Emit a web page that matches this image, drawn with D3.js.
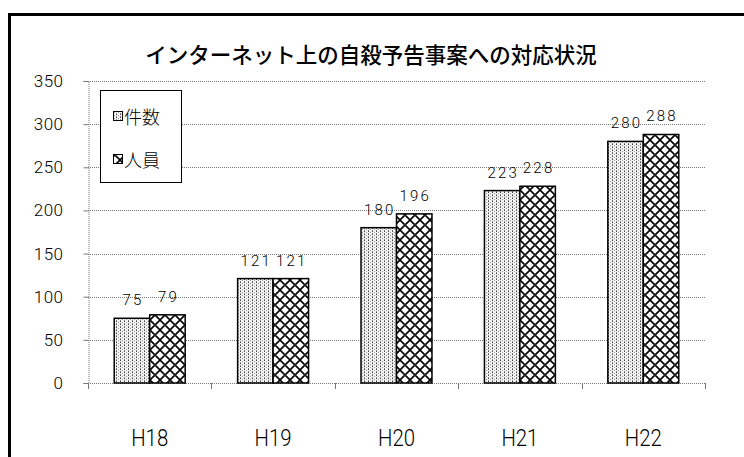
<!DOCTYPE html>
<html>
<head>
<meta charset="utf-8">
<script src="https://cdn.jsdelivr.net/npm/d3@7"></script>
<style>
  html, body { margin: 0; padding: 0; background: #fff; }
  svg { display: block; }
</style>
</head>
<body>
<svg id="chart" width="744" height="457"></svg>
<script>
// Online suicide-announcement cases handled, by fiscal year
const categories = ["H18", "H19", "H20", "H21", "H22"];
const seriesNames = ["件数", "人員"];
const cases = [75, 121, 180, 223, 280];
const persons = [79, 121, 196, 228, 288];
const yTicks = [0, 50, 100, 150, 200, 250, 300, 350];
const title = "インターネット上の自殺予告事案への対応状況";

const series = [cases, persons];
const svg = d3.select("#chart");
const latin = "Roboto, 'Liberation Sans', sans-serif";
const jp = "'Noto Sans CJK JP', sans-serif";

// fill patterns
const defs = svg.append("defs");
const p1 = defs.append("pattern").attr("id", "pat0")
  .attr("patternUnits", "userSpaceOnUse").attr("width", 4).attr("height", 3);
p1.append("rect").attr("width", 4).attr("height", 3).attr("fill", "#f2f2f2");
p1.append("rect").attr("x", 0).attr("y", 0).attr("width", 1).attr("height", 1).attr("fill", "#444");
p1.append("rect").attr("x", 2).attr("y", 1).attr("width", 1).attr("height", 1).attr("fill", "#999");
p1.append("rect").attr("x", 0).attr("y", 2).attr("width", 1).attr("height", 1).attr("fill", "#888");

const p2 = defs.append("pattern").attr("id", "pat1")
  .attr("patternUnits", "userSpaceOnUse").attr("width", 10).attr("height", 10);
p2.append("rect").attr("width", 10).attr("height", 10).attr("fill", "#fff");
p2.append("path").attr("d", "M0,0L10,10M10,0L0,10M-1,9L1,11M9,-1L11,1")
  .attr("stroke", "#000").attr("stroke-width", 1.6).attr("fill", "none");
p2.append("rect").attr("x", 4).attr("y", 4).attr("width", 2).attr("height", 2).attr("fill", "#222");

// outer frame (top and left edges)
svg.append("path").attr("d", "M9.5,457V14.5H744")
  .attr("stroke", "#000").attr("stroke-width", 3).attr("fill", "none");

// title
svg.append("text").attr("x", 371).attr("y", 63).attr("text-anchor", "middle")
  .attr("font-family", jp).attr("font-size", 21.5).attr("font-weight", 500)
  .attr("fill", "#000").text(title);

const x = d3.scaleBand().domain(categories).range([88, 705])
  .paddingInner(0.425).paddingOuter(0.2125);
const xs = d3.scaleBand().domain([0, 1]).range([0, x.bandwidth()]);
const y = d3.scaleLinear().domain([0, 350]).range([383, 81]);

// gridlines
svg.append("g").selectAll("line").data(yTicks.filter(d => d > 0)).join("line")
  .attr("x1", 88).attr("x2", 705)
  .attr("y1", d => Math.round(y(d)) + 0.5).attr("y2", d => Math.round(y(d)) + 0.5)
  .attr("stroke", "#777").attr("stroke-width", 1).attr("stroke-dasharray", "1,1");

// y axis
const yAxis = svg.append("g").attr("transform", "translate(88.5,0)")
  .call(d3.axisLeft(y).tickValues(yTicks).tickSize(5).tickPadding(20));
yAxis.select(".domain").attr("stroke", "#777").attr("stroke-dasharray", "1,1");
yAxis.selectAll(".tick line").attr("stroke", "#777");
yAxis.selectAll("text").attr("font-family", latin).attr("font-size", 17)
  .attr("font-weight", 300).attr("letter-spacing", 0.5).attr("fill", "#000");

// x axis
const boundaries = categories.map(c => x(c) - x.step() * x.paddingInner() / 2).concat([705]);
svg.append("line").attr("x1", 88).attr("x2", 705).attr("y1", 383.5).attr("y2", 383.5)
  .attr("stroke", "#777").attr("stroke-dasharray", "1,1");
svg.append("g").selectAll("line").data(boundaries).join("line")
  .attr("x1", d => Math.round(d) + 0.5).attr("x2", d => Math.round(d) + 0.5)
  .attr("y1", 383).attr("y2", 389).attr("stroke", "#777");
svg.append("g").selectAll("text").data(categories).join("text")
  .attr("x", d => x(d) + x.bandwidth() / 2).attr("y", 446)
  .attr("text-anchor", "middle").attr("font-family", latin).attr("font-size", 24)
  .attr("font-weight", 300)
  .attr("textLength", 37).attr("lengthAdjust", "spacingAndGlyphs")
  .attr("fill", "#000").text(d => d);

// bars and value labels
series.forEach((vals, si) => {
  svg.append("g").selectAll("rect").data(vals).join("rect")
    .attr("x", (d, i) => x(categories[i]) + xs(si))
    .attr("y", d => y(d))
    .attr("width", xs.bandwidth())
    .attr("height", d => y(0) - y(d))
    .attr("fill", `url(#pat${si})`)
    .attr("stroke", "#000").attr("stroke-width", 1.5);
  svg.append("g").selectAll("text").data(vals).join("text")
    .attr("x", (d, i) => x(categories[i]) + xs(si) + xs.bandwidth() / 2 + 1)
    .attr("y", d => y(d) - 13)
    .attr("text-anchor", "middle").attr("font-family", latin).attr("font-weight", 300)
    .attr("font-size", 15).attr("letter-spacing", 2.2).attr("fill", "#000")
    .text(d => d);
});

// legend
const lg = svg.append("g");
lg.append("rect").attr("x", 100.5).attr("y", 90.5).attr("width", 81).attr("height", 92)
  .attr("fill", "#fff").attr("stroke", "#000").attr("stroke-width", 1);
seriesNames.forEach((name, i) => {
  const cy = 117 + i * 43;
  lg.append("rect").attr("x", 113.5).attr("y", cy - 5.5).attr("width", 9).attr("height", 9)
    .attr("fill", `url(#pat${i})`).attr("stroke", "#000").attr("stroke-width", 1);
  lg.append("text").attr("x", 124).attr("y", cy + 7)
    .attr("font-family", jp).attr("font-size", 18).attr("font-weight", 300)
    .attr("fill", "#000").text(name);
});
</script>
</body>
</html>
